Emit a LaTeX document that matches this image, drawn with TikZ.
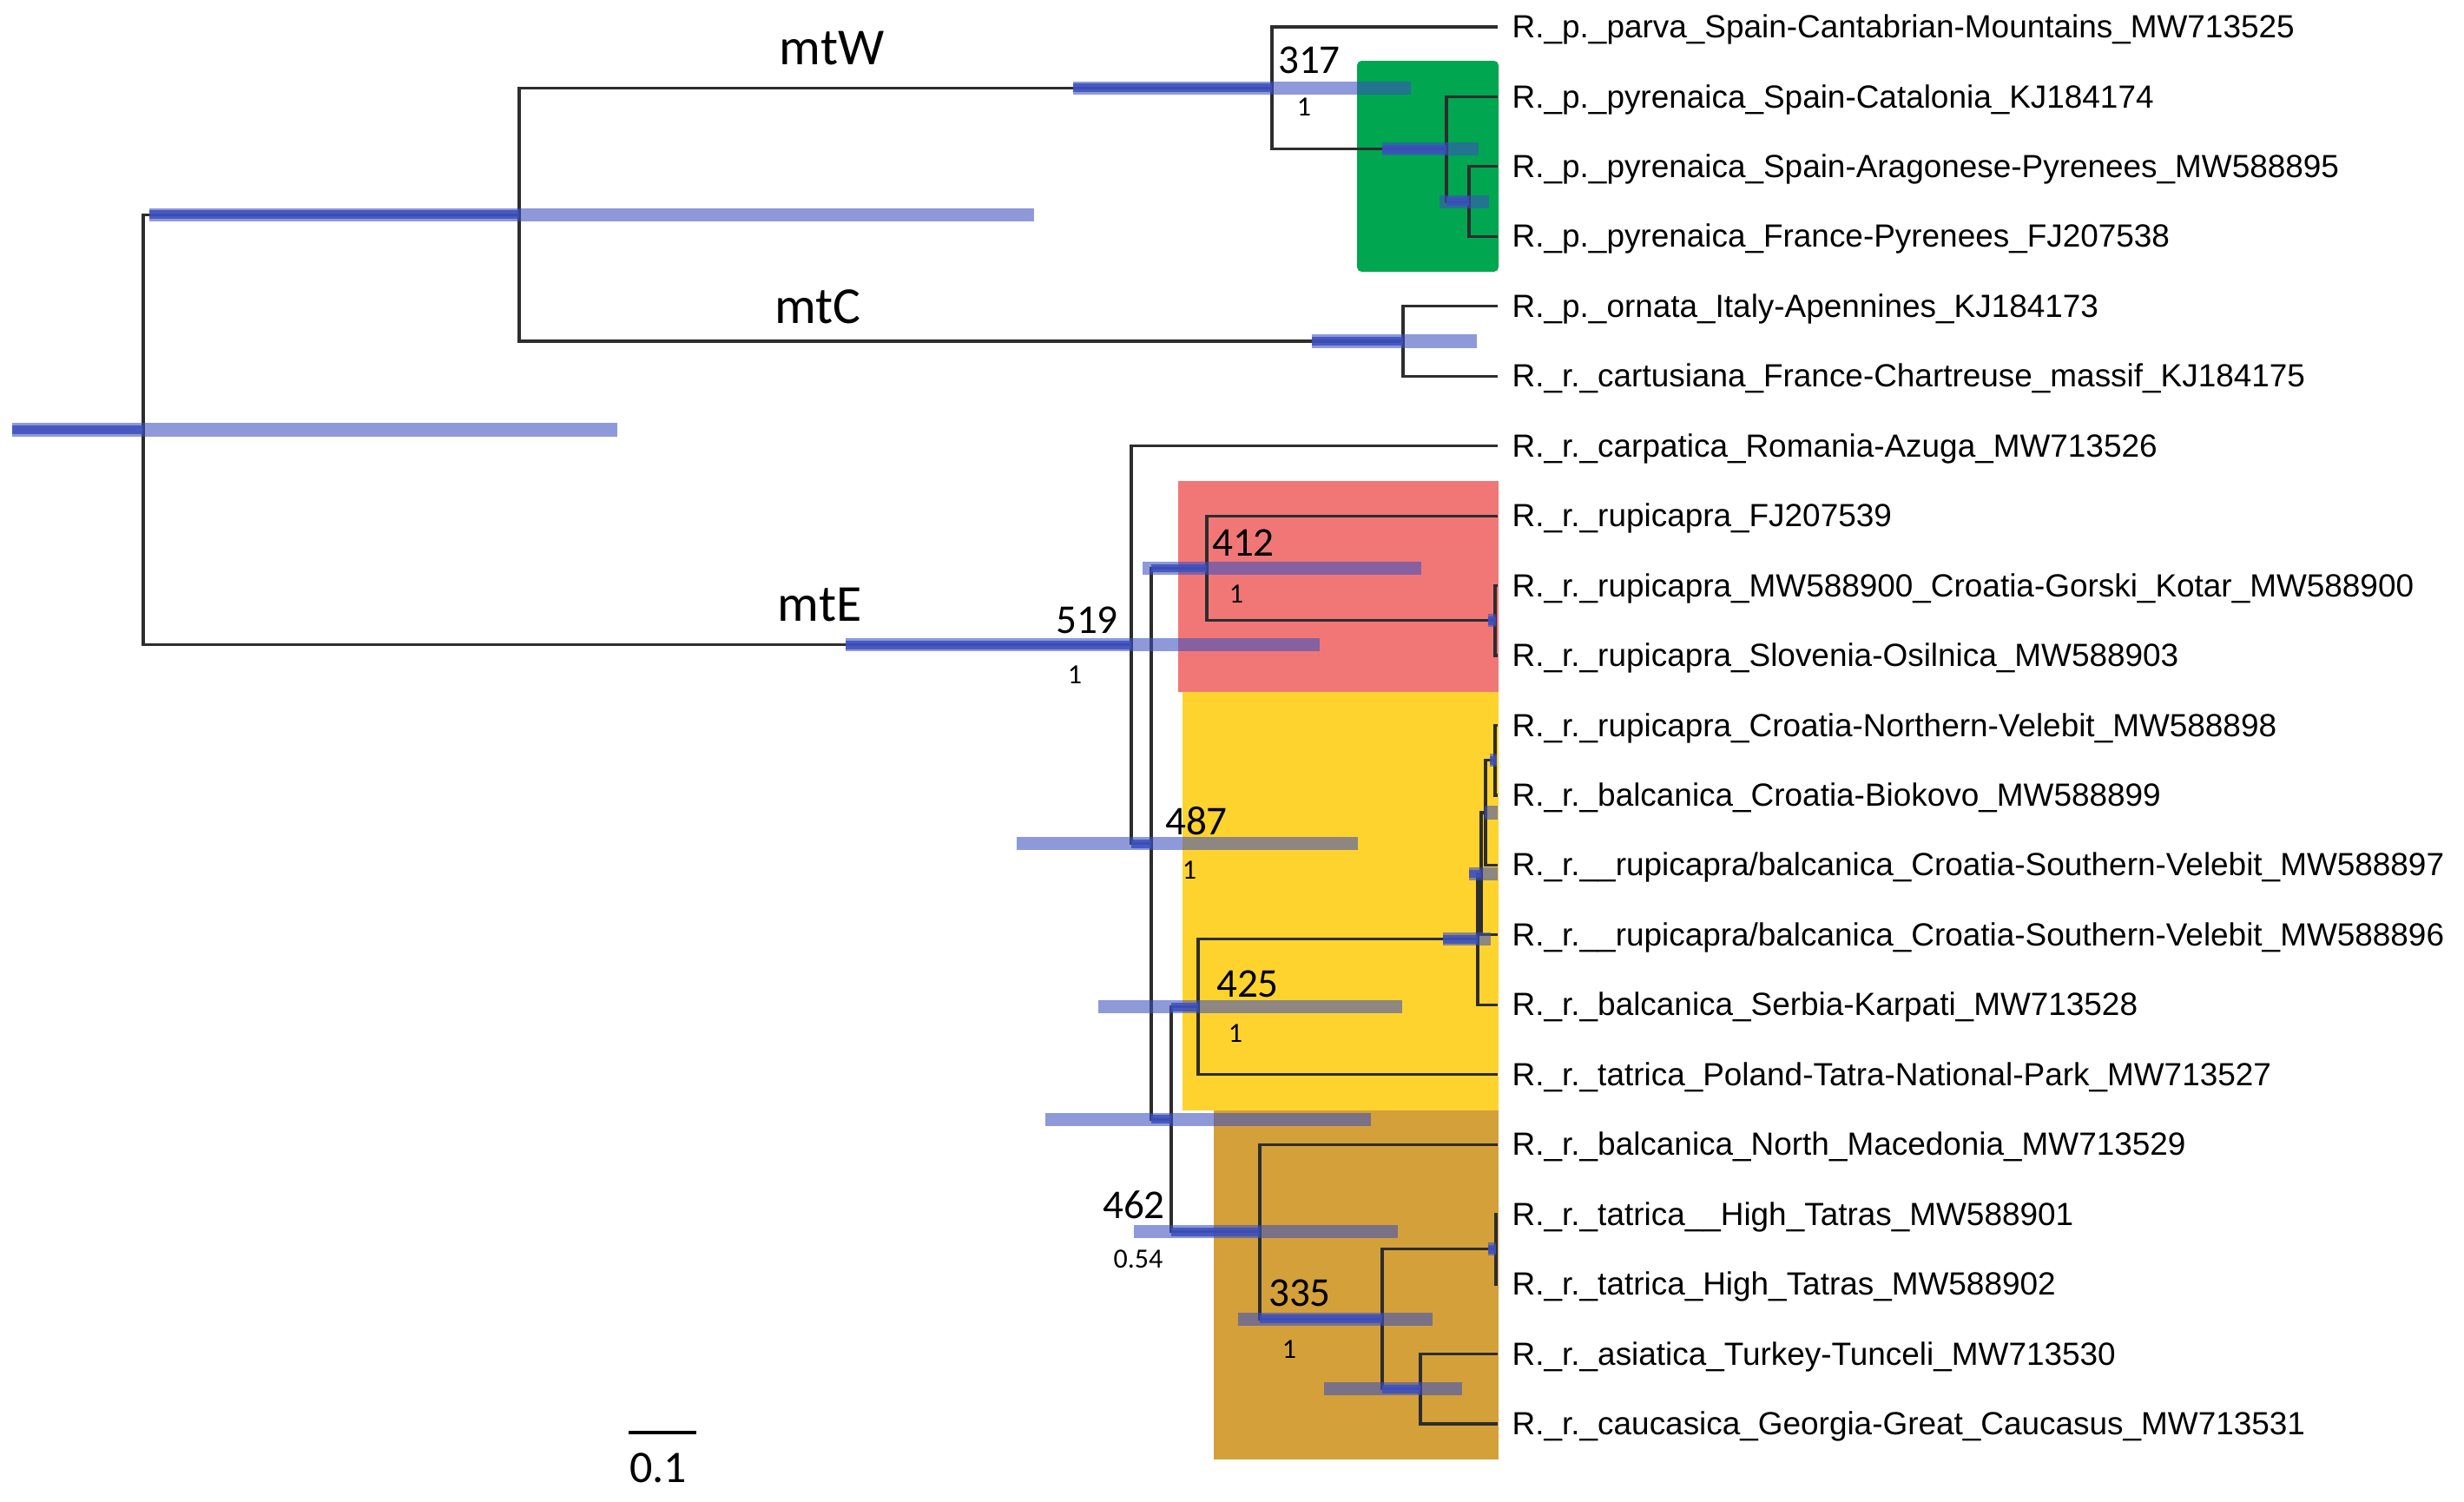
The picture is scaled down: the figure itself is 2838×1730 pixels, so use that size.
\documentclass[tikz,border=0pt]{standalone}
\usepackage{fontspec}
\setmainfont{Liberation Sans}
\newfontfamily\cladefont{Carlito}
\usetikzlibrary{
    positioning,   % For placing the tip labels right of the tips
}

\definecolor{branchgray}{RGB}{45,45,45}
\definecolor{hpdblue}{RGB}{60,80,190}
\definecolor{boxgreen}{RGB}{0,166,80}
\definecolor{boxred}{RGB}{241,119,119}
\definecolor{boxyellow}{RGB}{255,211,46}
\definecolor{boxochre}{RGB}{212,160,58}

\tikzset{
    branch/.style={draw=branchgray, line width=0.9pt},
    hpd/.style={draw=hpdblue, line width=4.3pt, opacity=0.58},
    hpdcore/.style={draw=hpdblue, line width=2.8pt, opacity=0.85},
    tiplab/.style={font=\fontsize{10.5}{12}\selectfont, inner sep=0pt,
                   text height=0.716em, text depth=0pt},
    clade/.style={font=\cladefont\fontsize{17}{20}\selectfont, inner sep=0pt},
    support/.style={font=\cladefont\fontsize{13.4}{16}\selectfont, inner sep=0pt},
    post/.style={font=\cladefont\fontsize{9.1}{11}\selectfont, inner sep=0pt},
    scalelab/.style={font=\cladefont\fontsize{14.8}{17}\selectfont, inner sep=0pt}
}

\begin{document}
\begin{tikzpicture}[x=0.01cm, y=-0.01cm]
    \useasboundingbox (0,0) rectangle (2838,1730);
    \fill[white] (0,0) rectangle (2838,1730);

    % --- Clade boxes ---
    \fill[boxgreen, rounded corners=1.5pt] (1563,70) rectangle (1726,313);
    \fill[boxred] (1357,554) rectangle (1726,797);
    \fill[boxyellow] (1362,797) rectangle (1726,1279);
    \fill[boxochre] (1398,1279) rectangle (1726,1681);

    % --- Tips and their labels ---
    \foreach \lab [count=\i] in {
        R.\_p.\_parva\_Spain-Cantabrian-Mountains\_MW713525,
        R.\_p.\_pyrenaica\_Spain-Catalonia\_KJ184174,
        R.\_p.\_pyrenaica\_Spain-Aragonese-Pyrenees\_MW588895,
        R.\_p.\_pyrenaica\_France-Pyrenees\_FJ207538,
        R.\_p.\_ornata\_Italy-Apennines\_KJ184173,
        R.\_r.\_cartusiana\_France-Chartreuse\_massif\_KJ184175,
        R.\_r.\_carpatica\_Romania-Azuga\_MW713526,
        R.\_r.\_rupicapra\_FJ207539,
        R.\_r.\_rupicapra\_MW588900\_Croatia-Gorski\_Kotar\_MW588900,
        R.\_r.\_rupicapra\_Slovenia-Osilnica\_MW588903,
        R.\_r.\_rupicapra\_Croatia-Northern-Velebit\_MW588898,
        R.\_r.\_balcanica\_Croatia-Biokovo\_MW588899,
        R.\_r.\_\_rupicapra/balcanica\_Croatia-Southern-Velebit\_MW588897,
        R.\_r.\_\_rupicapra/balcanica\_Croatia-Southern-Velebit\_MW588896,
        R.\_r.\_balcanica\_Serbia-Karpati\_MW713528,
        R.\_r.\_tatrica\_Poland-Tatra-National-Park\_MW713527,
        R.\_r.\_balcanica\_North\_Macedonia\_MW713529,
        R.\_r.\_tatrica\_\_High\_Tatras\_MW588901,
        R.\_r.\_tatrica\_High\_Tatras\_MW588902,
        R.\_r.\_asiatica\_Turkey-Tunceli\_MW713530,
        R.\_r.\_caucasica\_Georgia-Great\_Caucasus\_MW713531}
    {
        \coordinate (t\i) at (1725,{31+80.45*(\i-1)});
        \node[tiplab, right=0.16cm of t\i] (lab\i) {\lab};
    }

    % --- Internal nodes ---
    \coordinate (root)   at (165,495);
    \coordinate (wc)     at (598,247.2);
    \coordinate (mtw)    at (1465,101.4);
    \coordinate (pyr)    at (1666,171.9);
    \coordinate (pyrsub) at (1692,232.2);
    \coordinate (mtc)    at (1616,393);
    \coordinate (mte)    at (1303,742.8);
    \coordinate (n487)   at (1326,971.9);
    \coordinate (n412)   at (1390,654.5);
    \coordinate (rupsub) at (1722,714.8);
    \coordinate (nlow)   at (1349,1289.3);
    \coordinate (n425)   at (1380,1159.8);
    \coordinate (balc)   at (1702,1081.9);
    \coordinate (balcb)  at (1706,1006.5);
    \coordinate (balcc)  at (1711,936);
    \coordinate (balcd)  at (1722,875.7);
    \coordinate (n462)   at (1451,1418.8);
    \coordinate (n335)   at (1592,1519.3);
    \coordinate (tatra)  at (1723,1438.9);
    \coordinate (cauc)   at (1636,1599.8);

    % --- Branches ---
    \foreach \a/\b in {root/wc, root/mte, wc/mtw, wc/mtc, mtw/t1, mtw/pyr,
                       pyr/t2, pyr/pyrsub, pyrsub/t3, pyrsub/t4, mtc/t5, mtc/t6,
                       mte/t7, mte/n487, n487/n412, n487/nlow, n412/t8, n412/rupsub,
                       rupsub/t9, rupsub/t10, nlow/n425, nlow/n462, n425/balc, n425/t16,
                       balc/balcb, balc/t15, balcb/balcc, balcb/t14, balcc/balcd, balcc/t13,
                       balcd/t11, balcd/t12, n462/t17, n462/n335, n335/tatra, n335/cauc,
                       tatra/t18, tatra/t19, cauc/t20, cauc/t21}
        \draw[branch] (\a) |- (\b);

    % --- Node height bars: y / start / core start / node / end ---
    \foreach \y/\a/\b/\c/\d in {
        495/14/14/165/711,
        247.2/172/172/598/1191,
        101.4/1236/1236/1465/1625,
        171.9/1592/1592/1666/1703,
        232.2/1658/1666/1692/1715,
        393/1511/1511/1616/1701,
        742.8/974/974/1303/1520,
        971.9/1171/1303/1326/1564,
        654.5/1316/1326/1390/1637,
        714.8/1714/1714/1723/1723,
        1289.3/1204/1326/1349/1579,
        1159.8/1265/1349/1380/1615,
        1081.9/1662/1662/1702/1717,
        1006.5/1692/1692/1706/1725,
        936/1710/1710/1711/1725,
        875.7/1716/1716/1724/1724,
        1418.8/1306/1349/1451/1610,
        1519.3/1426/1451/1592/1650,
        1438.9/1714/1714/1723/1723,
        1599.8/1525/1592/1636/1684}
    {
        \draw[hpd] (\a,\y) -- (\d,\y);
        \draw[hpdcore] (\b,\y) -- (\c,\y);
    }

    % --- Lineage labels ---
    \node[clade] (labw) at (958,56) {mtW};
    \node[clade] (labc) at (942,353) {mtC};
    \node[clade] (labe) at (944,697) {mtE};

    % --- Node support ---
    \node[support] (s317) at (1508,69) {317};
    \node[post]    (p317) at (1502,123) {1};
    \node[support] (s519) at (1252,714) {519};
    \node[post]    (p519) at (1238,777) {1};
    \node[support] (s412) at (1432,625) {412};
    \node[post]    (p412) at (1424,684) {1};
    \node[support] (s487) at (1378,946) {487};
    \node[post]    (p487) at (1370,1002) {1};
    \node[support] (s425) at (1437,1133) {425};
    \node[post]    (p425) at (1423,1190) {1};
    \node[support] (s462) at (1306,1388) {462};
    \node[post]    (p462) at (1311,1450) {0.54};
    \node[support] (s335) at (1497,1489) {335};
    \node[post]    (p335) at (1485,1554) {1};

    % --- Scale bar ---
    \coordinate (sbleft) at (724,1650);
    \coordinate (sbright) at (802,1650);
    \draw[branch, draw=black] (sbleft) -- (sbright);
    \node[scalelab] (sblab) at (758,1691) {0.1};
\end{tikzpicture}
\end{document}
